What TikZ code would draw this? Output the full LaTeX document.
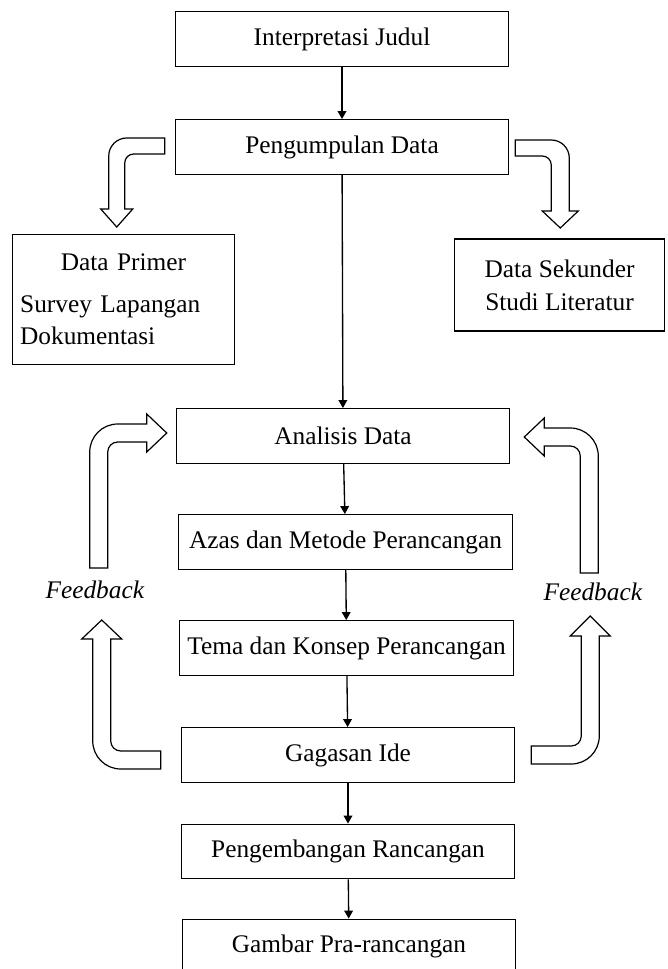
\documentclass[tikz,border=0pt]{standalone}
\usepackage{fontspec}
\setmainfont{Liberation Serif}
\usetikzlibrary{positioning, arrows.meta}

\begin{document}
\begin{tikzpicture}[
    x=0.75pt, y=0.75pt,
    on grid,
    font=\fontsize{19}{24}\selectfont,
    box/.style={draw, line width=0.9pt, minimum width=250pt, minimum height=41pt, inner sep=0pt},
    sidebox/.style={draw, line width=0.9pt, inner sep=6pt},
    hollow/.style={draw, line width=0.9pt, fill=white, line join=miter},
    every edge/.append style={line width=1pt, >={Triangle[length=6pt, width=6.5pt]}}
]
   \useasboundingbox (0,0) rectangle (667,-969);

   % Main steps
   \node[box] (interp) at (342,-39) {Interpretasi Judul};
   \node[box] (peng)   [below=81pt of interp] {Pengumpulan Data};
   \node[box] (ana)    [below=216.75pt of peng, xshift=0.75pt] {Analisis Data};
   \node[box] (azas)   [below=79.5pt of ana, xshift=1.9pt] {Azas dan Metode Perancangan};
   \node[box] (tema)   [below=79.5pt of azas, xshift=0.75pt] {Tema dan Konsep Perancangan};
   \node[box] (gag)    [below=80.25pt of tema, xshift=1.1pt] {Gagasan Ide};
   \node[box] (kemb)   [below=72.4pt of gag] {Pengembangan Rancangan};
   \node[box] (gbr)    [below=71.25pt of kemb, xshift=0.75pt] {Gambar Pra-rancangan};

   % Data sources
   \node[sidebox, text width=155pt, minimum height=98pt, align=left] (prim) at (123.5,-299.5)
     {\makebox[\hsize]{Data Primer}\\[7.5pt]\makebox[\hsize][l]{Survey Lapangan}\\\makebox[\hsize][l]{Dokumentasi}};
   \node[sidebox, minimum width=157pt, minimum height=69pt, align=center] (sek) at (559.5,-285)
     {Data Sekunder\\[0.75pt]Studi Literatur};

   % Feedback labels
   \node (fbl) at (95,-590) {\textit{Feedback}};
   \node (fbr) at (593,-592) {\textit{Feedback}};

   % Flow
   \path[->]
     (interp) edge (peng)
     (peng) edge (ana)
     (ana) edge (azas)
     (azas) edge (tema)
     (tema) edge (gag)
     (gag) edge (kemb)
     (kemb) edge (gbr);

   % Bent arrows to the data sources
   \path[hollow] ([shift={(-10,9)}]peng.west) -- ++(-38,0)
     arc[start angle=90, end angle=180, radius=13.5pt] -- ++(0,-53) -- ++(-8,0)
     -- ++(16,-18) -- ++(16,18) -- ++(-8,0) -- ++(0,46)
     arc[start angle=180, end angle=90, radius=6.75pt] -- ++(31,0) -- cycle;
   \path[hollow] ([shift={(6,7)}]peng.east) -- ++(36,0)
     arc[start angle=90, end angle=0, radius=13.5pt] -- ++(0,-53) -- ++(9,0)
     -- ++(-18,-17) -- ++(-18,17) -- ++(9,0) -- ++(0,46)
     arc[start angle=0, end angle=90, radius=6.75pt] -- ++(-27,0) -- cycle;

   % Feedback arrows, left side
   \path[hollow] ([shift={(-9,3)}]ana.west) -- ++(-20,-19) -- ++(0,10) -- ++(-29,0)
     arc[start angle=90, end angle=180, radius=7.5pt] -- ++(0,-116) -- ++(-18,0)
     -- ++(0,116) arc[start angle=180, end angle=90, radius=21pt]
     -- ++(29,0) -- ++(0,10) -- cycle;
   \path[hollow] ([shift={(-20,4)}]gag.west) -- ++(-40,0)
     arc[start angle=270, end angle=180, radius=7.5pt] -- ++(0,102) -- ++(11,0)
     -- ++(-20,19) -- ++(-20,-19) -- ++(11,0) -- ++(0,-102)
     arc[start angle=180, end angle=270, radius=21pt] -- ++(40,0) -- cycle;

   % Feedback arrows, right side
   \path[hollow] ([shift={(14,-1)}]ana.east) -- ++(20,19) -- ++(0,-10) -- ++(26,0)
     arc[start angle=90, end angle=0, radius=21pt] -- ++(0,-117) -- ++(-18,0)
     -- ++(0,117) arc[start angle=0, end angle=90, radius=7.5pt]
     -- ++(-26,0) -- ++(0,-10) -- cycle;
   \path[hollow] ([shift={(16,9)}]gag.east) -- ++(40,0)
     arc[start angle=270, end angle=360, radius=7.5pt] -- ++(0,100) -- ++(-11,0)
     -- ++(20,20) -- ++(20,-20) -- ++(-11,0) -- ++(0,-100)
     arc[start angle=0, end angle=-90, radius=21pt] -- ++(-40,0) -- cycle;

\end{tikzpicture}
\end{document}
